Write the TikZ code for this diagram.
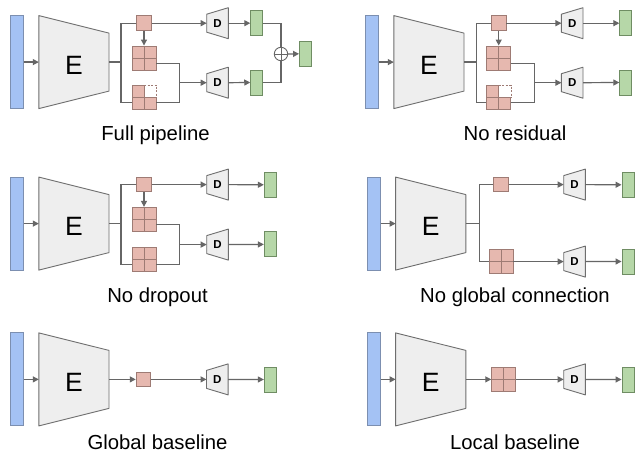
\documentclass[tikz,border=0pt]{standalone}
\usepackage{fontspec}
\setmainfont{Liberation Sans}
\usetikzlibrary{calc,arrows.meta}
\pgfdeclarelayer{bg}
\pgfsetlayers{bg,main}
\definecolor{lineg}{HTML}{666666}
\definecolor{bluef}{HTML}{A4C2F4}
\definecolor{blued}{HTML}{7C8FB0}
\definecolor{ef}{HTML}{EEEEEE}
\definecolor{ed}{HTML}{6E6E6E}
\definecolor{pinkf}{HTML}{E6B8AF}
\definecolor{pinkd}{HTML}{9E7B74}
\definecolor{greenf}{HTML}{B6D7A8}
\definecolor{greend}{HTML}{6F8D63}
\tikzset{
  bar/.style={rectangle, draw=blued, fill=bluef, line width=0.9pt, minimum width=12.6pt, minimum height=93pt, inner sep=0pt},
  enc/.style={rectangle, minimum width=70.2pt, minimum height=93pt, inner sep=0pt, outer sep=0pt,
    font=\fontsize{26.5}{28}\selectfont, text height=24pt, text depth=0pt},
  encshape/.style={draw=ed, fill=ef, line width=0.9pt, line join=round},
  dec/.style={rectangle, minimum width=21.6pt, minimum height=31pt, inner sep=0pt, outer sep=0pt,
    font=\bfseries\fontsize{11.5}{12}\selectfont},
  sq/.style={rectangle, draw=pinkd, fill=pinkf, minimum size=14.6pt, inner sep=0pt, line width=0.9pt},
  grid/.style={sq, minimum size=24pt, path picture={\draw[pinkd, line width=0.9pt]
      (path picture bounding box.north) -- (path picture bounding box.south)
      (path picture bounding box.west) -- (path picture bounding box.east);}},
  outbox/.style={rectangle, draw=greend, fill=greenf, minimum width=12pt, minimum height=25pt, inner sep=0pt, line width=0.9pt},
  plus/.style={circle, draw=lineg, fill=white, line width=0.9pt, minimum size=13.4pt, inner sep=0pt,
    path picture={\draw[lineg, line width=0.9pt]
      (path picture bounding box.north) -- (path picture bounding box.south)
      (path picture bounding box.west) -- (path picture bounding box.east);}},
  conn/.style={draw=lineg, line width=1.2pt},
  arr/.style={conn, -{Triangle[length=6pt,width=6pt]}},
  lbl/.style={font=\fontsize{20.3}{22}\selectfont, anchor=base, inner sep=0pt},
}
\newcommand\MyEnc[1]{\begin{pgfonlayer}{bg}\draw[encshape] (#1.north west) -- ($(#1.east)+(0,-29)$) -- ($(#1.east)+(0,29)$) -- (#1.south west) -- cycle;\end{pgfonlayer}}
\newcommand\MyDec[1]{\begin{pgfonlayer}{bg}\draw[encshape] ($(#1.west)+(0,-9)$) -- (#1.north east) -- (#1.south east) -- ($(#1.west)+(0,9)$) -- cycle;\end{pgfonlayer}}
\newcommand\MyDrop[1]{\fill[white] ($(#1.center)+(0.5,-0.5)$) rectangle ($(#1.north east)+(0.7,-0.7)$);
  \draw[pinkd, line width=0.8pt, dash pattern=on 2pt off 1.5pt] (#1.north) -- (#1.north east) -- (#1.east);}
\begin{document}
\begin{tikzpicture}[x=1pt, y=-1pt]
\begin{pgfonlayer}{bg}\fill[white] (0,0) rectangle (637,454);\end{pgfonlayer}
\useasboundingbox (0,0) rectangle (637,454);

% ---------- Panel 1: Full pipeline ----------
\node[bar] (b1) at (17,62.1) {};
\node[enc] (e1) at (73.9,62.1) {E}; \MyEnc{e1}
\coordinate (j1) at (121,62.1);
\node[sq] (s1) at (144,23.2) {};
\node[grid] (g1) at (144,58) {};
\node[grid] (g2) at (144,97.5) {}; \MyDrop{g2}
\coordinate (m1) at (179.5,82.7);
\node[dec] (d1) at (217.5,23.2) {D}; \MyDec{d1}
\node[dec] (d2) at (217.5,82.7) {D}; \MyDec{d2}
\node[outbox] (o1) at (256.7,23.2) {};
\node[outbox] (o2) at (256.7,82.5) {};
\node[plus] (p1) at (281,54) {};
\node[outbox] (o3) at (305.5,53.8) {};
\draw[arr] (b1.east) -- (e1.west);
\draw[conn] (e1.east) -- (j1);
\draw[conn] (s1.west) -| (j1) |- ($(g2.west)+(0,5.2)$);
\draw[arr] (s1.south) -- (g1.north);
\draw[arr] (s1.east) -- (d1.west);
\draw[conn] ($(g1.east)+(0,5.3)$) -| (m1) |- ($(g2.east)+(0,5.2)$);
\draw[arr] (m1) -- (d2.west);
\draw[arr] (d1.east) -- (o1.west);
\draw[arr] (d2.east) -- (o2.west);
\draw[conn] (o1.east) -| (p1.north);
\draw[conn] (o2.east) -| (p1.south);
\draw[arr] (p1.east) -- (o3.west);
\node[lbl] (t1) at (155.5,140.7) {Full pipeline};

% ---------- Panel 2: No residual ----------
\node[bar] (b2) at (372,62.1) {};
\node[enc] (e2) at (428.9,62.1) {E}; \MyEnc{e2}
\coordinate (j2) at (476.5,62.1);
\node[sq] (s2) at (498.7,23.2) {};
\node[grid] (g3) at (498.7,58) {};
\node[grid] (g4) at (498.7,97.5) {}; \MyDrop{g4}
\coordinate (m2) at (534.4,82.7);
\node[dec] (d3) at (572.2,23.2) {D}; \MyDec{d3}
\node[dec] (d4) at (572.2,82.7) {D}; \MyDec{d4}
\node[outbox] (o4) at (625.8,23.2) {};
\node[outbox] (o5) at (625.8,82.5) {};
\draw[arr] (b2.east) -- (e2.west);
\draw[conn] (e2.east) -- (j2);
\draw[conn] (s2.west) -| (j2) |- ($(g4.west)+(0,5.2)$);
\draw[arr] (s2.south) -- (g3.north);
\draw[arr] (s2.east) -- (d3.west);
\draw[conn] ($(g3.east)+(0,5.3)$) -| (m2) |- ($(g4.east)+(0,5.2)$);
\draw[arr] (m2) -- (d4.west);
\draw[arr] (d3.east) -- (o4.west);
\draw[arr] (d4.east) -- (o5.west);
\node[lbl] (t2) at (515,140.7) {No residual};

% ---------- Panel 3: No dropout ----------
\node[bar] (b3) at (17,223.6) {};
\node[enc] (e3) at (73.9,223.6) {E}; \MyEnc{e3}
\coordinate (j3) at (121,223.6);
\node[sq] (s3) at (144,184.6) {};
\node[grid] (g5) at (144,219.3) {};
\node[grid] (g6) at (144,259.3) {};
\coordinate (m3) at (179.5,244.6);
\node[dec] (d5) at (217.5,184.6) {D}; \MyDec{d5}
\node[dec] (d6) at (217.5,244.6) {D}; \MyDec{d6}
\node[outbox] (o6) at (270.3,184.8) {};
\node[outbox] (o7) at (270.3,244.4) {};
\draw[arr] (b3.east) -- (e3.west);
\draw[conn] (e3.east) -- (j3);
\draw[conn] (s3.west) -| (j3) |- ($(g6.west)+(0,5.3)$);
\draw[arr] (s3.south) -- (g5.north);
\draw[arr] (s3.east) -- (d5.west);
\draw[conn] ($(g5.east)+(0,5.3)$) -| (m3) |- ($(g6.east)+(0,5.3)$);
\draw[arr] (m3) -- (d6.west);
\draw[arr] (d5.east) -- (o6.west);
\draw[arr] (d6.east) -- (o7.west);
\node[lbl] (t3) at (157.5,302.3) {No dropout};

% ---------- Panel 4: No global connection ----------
\node[bar] (b4) at (374.2,223.6) {};
\node[enc] (e4) at (430.7,223.6) {E}; \MyEnc{e4}
\coordinate (j4) at (479.3,223.6);
\node[sq] (s4) at (500.8,184.6) {};
\node[grid] (g7) at (501,261.6) {};
\node[dec] (d7) at (574.5,184.6) {D}; \MyDec{d7}
\node[dec] (d8) at (574.5,261.6) {D}; \MyDec{d8}
\node[outbox] (o8) at (628,184.8) {};
\node[outbox] (o9) at (628,261.5) {};
\draw[arr] (b4.east) -- (e4.west);
\draw[conn] (e4.east) -- (j4);
\draw[conn] (s4.west) -| (j4) |- (g7.west);
\draw[arr] (s4.east) -- (d7.west);
\draw[arr] (g7.east) -- (d8.west);
\draw[arr] (d7.east) -- (o8.west);
\draw[arr] (d8.east) -- (o9.west);
\node[lbl] (t4) at (515,302.3) {No global connection};

% ---------- Panel 5: Global baseline ----------
\node[bar] (b5) at (17,379.4) {};
\node[enc] (e5) at (73.9,379.4) {E}; \MyEnc{e5}
\node[sq] (s5) at (143.5,379.4) {};
\node[dec] (d9) at (217.3,379.4) {D}; \MyDec{d9}
\node[outbox] (o10) at (270.3,379.5) {};
\draw[arr] (b5.east) -- (e5.west);
\draw[arr] (e5.east) -- (s5.west);
\draw[arr] (s5.east) -- (d9.west);
\draw[arr] (d9.east) -- (o10.west);
\node[lbl] (t5) at (157.5,449.5) {Global baseline};

% ---------- Panel 6: Local baseline ----------
\node[bar] (b6) at (374.2,379.4) {};
\node[enc] (e6) at (430.7,379.4) {E}; \MyEnc{e6}
\node[grid] (g8) at (503.7,379.4) {};
\node[dec] (d10) at (574.5,379.4) {D}; \MyDec{d10}
\node[outbox] (o11) at (628,379.5) {};
\draw[arr] (b6.east) -- (e6.west);
\draw[arr] (e6.east) -- (g8.west);
\draw[arr] (g8.east) -- (d10.west);
\draw[arr] (d10.east) -- (o11.west);
\node[lbl] (t6) at (515,449.5) {Local baseline};
\end{tikzpicture}
\end{document}
